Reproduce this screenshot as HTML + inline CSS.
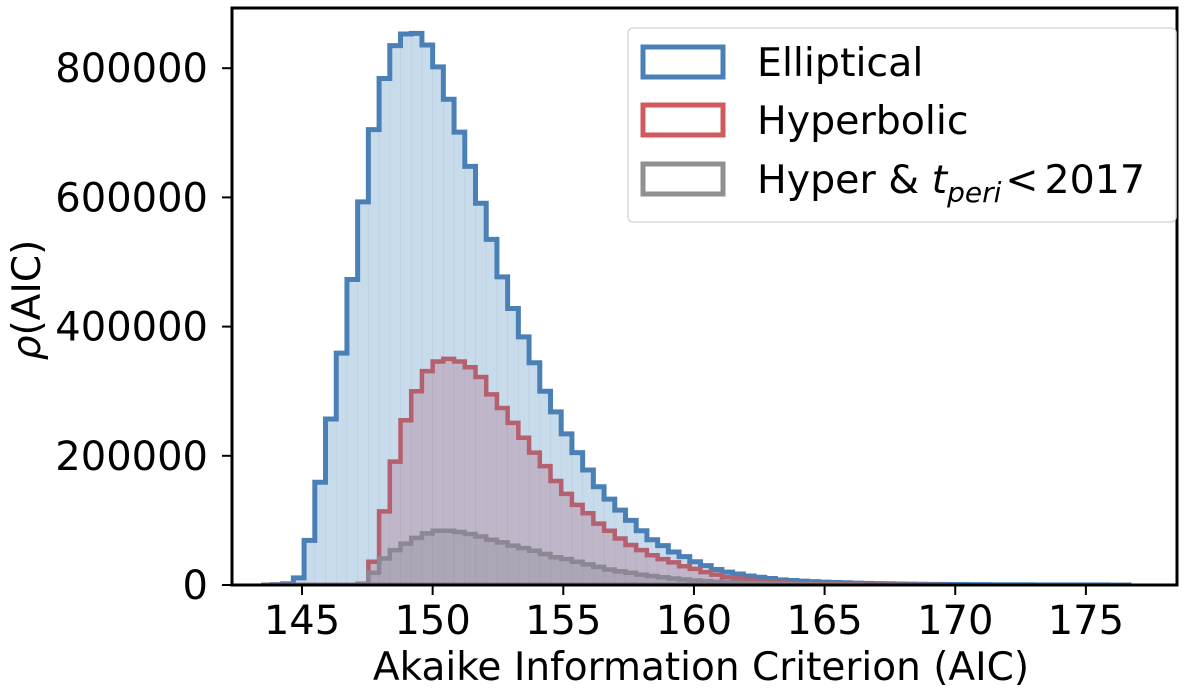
<!DOCTYPE html>
<html><head><meta charset="utf-8"><style>
html,body{margin:0;padding:0;background:#fff;}
svg{display:block;font-family:"DejaVu Sans","Liberation Sans",sans-serif;}
</style></head><body>
<svg id="chart" width="1200" height="696" viewBox="0 0 1200 696">
<defs><clipPath id="pc"><rect x="232" y="8" width="945" height="577"/></clipPath></defs>
<g id="fills" clip-path="url(#pc)"></g>
<g id="lines" clip-path="url(#pc)"></g>
<g id="axes"></g>
<text x="40" y="300" font-size="39" text-anchor="middle" transform="rotate(-90 40 300)"><tspan font-style="italic">ρ</tspan>(AIC)</text>
<text x="701" y="680" font-size="39" text-anchor="middle">Akaike Information Criterion (AIC)</text>
<g>
<rect x="628" y="28" width="548" height="194" rx="5" fill="#fff" fill-opacity="0.8" stroke="#d9d9d9" stroke-width="1.5"/>
<rect x="643" y="47" width="80" height="30" fill="none" stroke="#4a80b6" stroke-width="5"/>
<text x="757" y="76" font-size="39.5">Elliptical</text>
<rect x="643" y="105" width="80" height="30" fill="none" stroke="#d05a5e" stroke-width="5"/>
<text x="757" y="134" font-size="39.5">Hyperbolic</text>
<rect x="643" y="164" width="80" height="30" fill="none" stroke="#909090" stroke-width="5"/>
<text x="757" y="193" font-size="39.5">Hyper &amp; <tspan font-style="italic">t</tspan><tspan font-style="italic" font-size="28" dy="9">peri</tspan><tspan dy="-9" dx="4">&lt;</tspan><tspan dx="6">2017</tspan></text>
</g>
</svg>
<script>
const binStart = 143.44;
const binWidth = 0.41;
const elliptical = [0,500,2000,11000,69000,159000,257000,359000,473000,593000,705000,784000,835000,853000,854000,836000,802000,752000,701000,648000,591000,535000,477000,428000,384000,
344000,300000,268000,234000,205000,178000,152000,133000,116000,100000,84000,70000,61000,51000,44000,36000,30000,24000,20000,17000,14000,12000,10000,8000,7000,6000,
5200,4500,3900,3400,2900,2500,2200,1900,1600,1400,1200,1000,900,800,700,600,500,450,400,350,300,260,220,190,160,140,120,100,80,60];
const hyperbolic = [0,0,0,0,0,0,0,0,0,2000,36000,114000,191000,255000,300000,331000,346000,350000,346000,337000,322000,295000,274000,251000,228000,205000,184000,161000,141000,124000,111000,95000,84000,72000,62000,54000,46000,40000,35000,29000,25000,20000,16000,12000,10000,8000,6000,5000,4000,3000,2500,2000,1500,1200,1000,800,600,500,400,300,200,150,100,50];
const hyperPeri = [0,0,0,0,0,0,0,0,0,1000,19000,41000,54000,64000,73000,80000,84000,84000,82000,79000,75000,70000,66000,61000,57000,53000,48000,43000,40000,36000,32000,28000,24000,21000,19000,16000,14000,12000,10000,8500,7000,6000,5000,4000,3500,3000,2500,2000,1500,1000,800,600,400,300,200,100];
const xTicks = [145,150,155,160,165,170,175];
const yTicks = [0,200000,400000,600000,800000];

const NS = "http://www.w3.org/2000/svg";
function xs(v){ return 302 + (v - 145) * 26.13; }
function ys(v){ return 585 - v * 0.000646; }
function mk(tag, attrs, parent){ const e = document.createElementNS(NS, tag); for (const k in attrs) e.setAttribute(k, attrs[k]); parent.appendChild(e); return e; }
const fills = document.getElementById('fills');
const lines = document.getElementById('lines');
const axes = document.getElementById('axes');

function stepPath(vals){
  let d = 'M' + xs(binStart) + ',' + ys(0);
  vals.forEach((v, i) => {
    const x0 = xs(binStart + i * binWidth), x1 = xs(binStart + (i + 1) * binWidth);
    d += ' L' + x0 + ',' + ys(v) + ' L' + x1 + ',' + ys(v);
  });
  d += ' L' + xs(binStart + vals.length * binWidth) + ',' + ys(0) + ' Z';
  return d;
}
function drawSeries(vals, fill, edge, stroke, sw, name){
  const g = mk('g', {}, fills);
  
  
  vals.forEach((v, i) => {
    if (v <= 0) return;
    const x0 = xs(binStart + i * binWidth), x1 = xs(binStart + (i + 1) * binWidth);
    const r = mk('rect', {x: x0, y: ys(v), width: x1 - x0, height: ys(0) - ys(v), fill: fill, stroke: edge, 'stroke-width': 0.6}, g);
    
    
  });
  const p = mk('path', {d: stepPath(vals), fill: 'none', stroke: stroke, 'stroke-width': sw, 'stroke-linejoin': 'miter'}, lines);
  
  
}
drawSeries(elliptical, '#c8dbea', '#b9cfe2', '#4a80b6', 5, 'elliptical');
drawSeries(hyperbolic, '#bfb7c9', '#b3abbf', '#b5606f', 4.5, 'hyperbolic');
drawSeries(hyperPeri, '#aca6b6', '#a39db0', '#8c8794', 4.5, 'hyper-tperi');

const spine = mk('rect', {x: 232, y: 8, width: 945, height: 577, fill: 'none', stroke: '#000', 'stroke-width': 3}, axes);


xTicks.forEach(t => {
  const tk = mk('line', {x1: xs(t), x2: xs(t), y1: 585, y2: 595, stroke: '#000', 'stroke-width': 2}, axes);
  
  
  const lb = mk('text', {x: xs(t), y: 634, 'font-size': 40, 'text-anchor': 'middle'}, axes);
  lb.textContent = t;
  
  
});
yTicks.forEach(t => {
  const tk = mk('line', {x1: 222, x2: 232, y1: ys(t), y2: ys(t), stroke: '#000', 'stroke-width': 2}, axes);
  
  
  const lb = mk('text', {x: 208, y: ys(t) + 14, 'font-size': 40, 'text-anchor': 'end'}, axes);
  lb.textContent = t;
  
  
});
</script>
</body></html>
